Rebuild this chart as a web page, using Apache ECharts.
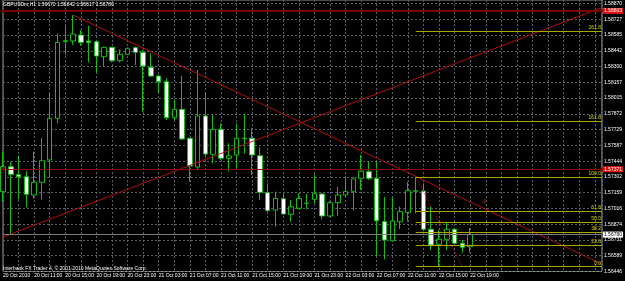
<!DOCTYPE html>
<html><head><meta charset="utf-8">
<script src="https://cdn.jsdelivr.net/npm/echarts@6/dist/echarts.min.js"></script>
<style>html,body{margin:0;padding:0;background:#000}#c{width:625px;height:281px}</style>
</head><body><div id="c"></div>
<script>
// time labels every 4 bars (bar 0 = 20 Oct 07:00)
const timeLabels = ['20 Oct 2010','20 Oct 11:00','20 Oct 15:00','20 Oct 19:00','20 Oct 23:00','21 Oct 03:00','21 Oct 07:00','21 Oct 11:00','21 Oct 15:00','21 Oct 19:00','21 Oct 23:00','22 Oct 03:00','22 Oct 07:00','22 Oct 11:00','22 Oct 15:00','22 Oct 19:00'];
const opens = [1.57168,1.57394,1.57322,1.57303,1.57138,1.57253,1.57455,1.57832,1.58525,1.58531,1.58585,1.58531,1.58525,1.58389,1.58474,1.58353,1.58411,1.58471,1.58429,1.58293,1.58214,1.58163,1.57837,1.57913,1.57651,1.57391,1.57853,1.57506,1.57732,1.57470,1.57500,1.57648,1.57651,1.57493,1.57159,1.57002,1.57104,1.56963,1.57018,1.57062,1.57099,1.57147,1.56948,1.57068,1.57138,1.57168,1.57289,1.57349,1.57289,1.56898,1.56724,1.56896,1.56981,1.57172,1.57174,1.56828,1.56692,1.56737,1.56828,1.56701,1.56670];
const closes = [1.57394,1.57325,1.57303,1.57144,1.57253,1.57448,1.57832,1.58519,1.58534,1.58594,1.58519,1.58519,1.58395,1.58474,1.58353,1.58411,1.58465,1.58429,1.58305,1.58214,1.58163,1.57837,1.57913,1.57645,1.57400,1.57853,1.57509,1.57732,1.57470,1.57491,1.57651,1.57652,1.57500,1.57162,1.56996,1.57108,1.56966,1.57032,1.57108,1.57064,1.57153,1.56948,1.57068,1.57138,1.57168,1.57283,1.57355,1.57289,1.56905,1.56731,1.56903,1.56987,1.57177,1.57176,1.56828,1.56686,1.56737,1.56828,1.56701,1.56665,1.56780];
const highs = [1.57530,1.57439,1.57493,1.57355,1.57530,1.57656,1.58063,1.58601,1.58667,1.58766,1.58631,1.58670,1.58534,1.58480,1.58480,1.58456,1.58471,1.58480,1.58450,1.58420,1.58224,1.58194,1.58004,1.58214,1.57655,1.58269,1.58067,1.57862,1.57787,1.57606,1.57787,1.57871,1.57741,1.57569,1.57244,1.57168,1.57153,1.57093,1.57153,1.57147,1.57325,1.57156,1.57084,1.57213,1.57303,1.57298,1.57500,1.57439,1.57439,1.57120,1.57113,1.57032,1.57258,1.57303,1.57244,1.57032,1.56821,1.56887,1.56837,1.56731,1.56842];
const lows = [1.57075,1.56785,1.57099,1.57027,1.57108,1.57099,1.57303,1.57787,1.58404,1.58495,1.58489,1.58338,1.58244,1.58299,1.58338,1.58338,1.58404,1.58314,1.57891,1.58208,1.58058,1.57816,1.57816,1.57635,1.57258,1.57364,1.57484,1.57425,1.57455,1.57349,1.57379,1.57515,1.57319,1.57093,1.56987,1.56851,1.56957,1.56896,1.57009,1.57011,1.57063,1.56918,1.56942,1.56948,1.57117,1.56996,1.57183,1.57274,1.56586,1.56556,1.56720,1.56830,1.56896,1.56972,1.56810,1.56640,1.56489,1.56640,1.56695,1.56616,1.56617];
const priceTicks = [1.58870,1.58727,1.58585,1.58442,1.58300,1.58157,1.58015,1.57872,1.57729,1.57587,1.57444,1.57302,1.57159,1.57016,1.56874,1.56731,1.56589,1.56446];
const fibLevels = [0,23.6,38.2,50,61.8,100,161.8,261.8];
const fibHigh = 1.57303, fibLow = 1.56489, fibStartBar = 53, fibEndBar = 59;
const topRedLine = 1.58803, midRedLine = 1.57371, bidLine = 1.56780;
const downTrend = [[9,1.58766],[76.92,1.56513]];
const upTrend = [[-0.2,1.56752],[76.92,1.58835]];
const arrowMark = [[61.8,1.57070]];
const titleText = 'GBPUSDm,H1 1.56670 1.56842 1.56617 1.56780';
const copyText = 'Interbank FX Trader 4, \u00a9 2001-2010 MetaQuotes Software Corp.';

const X_MAX = 76.92, Y_MIN = 1.56446, Y_MAX = 1.58902;
const FONT = 'Liberation Sans';
const chart = echarts.init(document.getElementById('c'), null, {renderer:'canvas'});
const candles = opens.map((o,i)=>[i,o,closes[i],lows[i],highs[i]]);
const fibData = fibLevels.map(l=>{
  const p = fibLow + (fibHigh-fibLow)*l/100;
  return [{coord:[fibStartBar,p], label:{formatter: l.toFixed(1)}},{coord:[X_MAX,p]}];
});
const lblStyle = {fontFamily:FONT, fontSize:5};
function hLine(p, lineStyle, label){
  return [{coord:[0,p], lineStyle, label},{coord:[X_MAX,p]}];
}
chart.setOption({
  animation:false,
  backgroundColor:'#000000',
  title:[
    {text:titleText,left:3,top:2,padding:0,textStyle:{color:'#ffffff',fontSize:5,fontWeight:'normal',fontFamily:FONT}},
    {text:copyText,left:3,top:266,padding:0,textStyle:{color:'#ffffff',fontSize:5,fontWeight:'normal',fontFamily:FONT}}
  ],
  grid:{left:1.6,right:19,top:0,bottom:9.5,show:true,borderColor:'#9a9a9a',borderWidth:1,backgroundColor:'#000'},
  xAxis:{type:'value',min:0,max:X_MAX,interval:2,
    axisLine:{show:false},axisTick:{show:false},
    splitLine:{show:true,lineStyle:{color:'#56606a',type:[2,2],width:1}},
    axisLabel:{show:true,color:'#ffffff',fontFamily:FONT,fontSize:5,margin:2,align:'left',showMinLabel:true,showMaxLabel:false,
      formatter:v=>{const r=Math.round(v); if(Math.abs(v-r)>1e-6||r%4!==0) return ''; const k=r/4; return k<timeLabels.length?timeLabels[k]:'';}}
  },
  yAxis:{type:'value',position:'right',min:Y_MIN,max:Y_MAX,scale:true,
    axisLine:{show:false},
    axisTick:{show:false,customValues:priceTicks},
    splitLine:{show:true,lineStyle:{color:'#56606a',type:[2,2],width:1}},
    axisLabel:{show:true,customValues:priceTicks,color:'#ffffff',fontFamily:FONT,fontSize:5,margin:2,formatter:v=>v.toFixed(5)}
  },
  series:[
    {type:'line',data:[],silent:true,
      markLine:{silent:true,symbol:['rect','rect'],symbolSize:3,animation:false,
        itemStyle:{color:'#ff8080'},
        data:[
          hLine(topRedLine,{color:'#7a0000',width:2,type:'solid'},
            {show:true,position:'end',distance:1,formatter:topRedLine.toFixed(5),backgroundColor:'#e01010',color:'#fff',padding:[1,1,0,1],...lblStyle}),
          hLine(midRedLine,{color:'#900000',width:1,type:'solid'},
            {show:true,position:'end',distance:1,formatter:midRedLine.toFixed(5),backgroundColor:'#e01010',color:'#fff',padding:[1,1,0,1],...lblStyle})
        ]}},
    {type:'line',data:[],silent:true,
      markLine:{silent:true,symbol:['none','none'],animation:false,
        data:[hLine(bidLine,{color:'#7a7a7a',width:1,type:'solid'},
          {show:true,position:'end',distance:1,formatter:bidLine.toFixed(5),backgroundColor:'#ffffff',color:'#000',padding:[1,1,0,1],...lblStyle})]}},
    {type:'line',data:[],silent:true,
      markLine:{silent:true,symbol:['none','none'],animation:false,
        lineStyle:{color:'#a8a800',width:1,type:'solid'},
        label:{show:true,position:'insideEndTop',distance:1,color:'#d8d800',...lblStyle},
        data:fibData}},
    {type:'line',data:downTrend,showSymbol:false,silent:true,lineStyle:{color:'#b01010',width:1}},
    {type:'line',data:upTrend,showSymbol:false,silent:true,lineStyle:{color:'#b01010',width:1}},
    {type:'line',data:[[fibStartBar,fibHigh],[fibEndBar,fibLow]],showSymbol:false,silent:true,lineStyle:{color:'#c01010',width:1,type:'dotted'}},
    {type:'candlestick',data:candles,encode:{x:0,y:[1,2,3,4]},barWidth:5,silent:true,
      itemStyle:{color:'#000000',color0:'#ffffff',borderColor:'#10c010',borderColor0:'#10c010',borderWidth:1}},
    {type:'scatter',data:arrowMark,symbol:'circle',symbolSize:1,silent:true,itemStyle:{color:'rgba(0,0,0,0)'},
      label:{show:true,position:'inside',formatter:'4',color:'#e02020',fontFamily:FONT,fontSize:7}}
  ]
});
</script></body></html>
